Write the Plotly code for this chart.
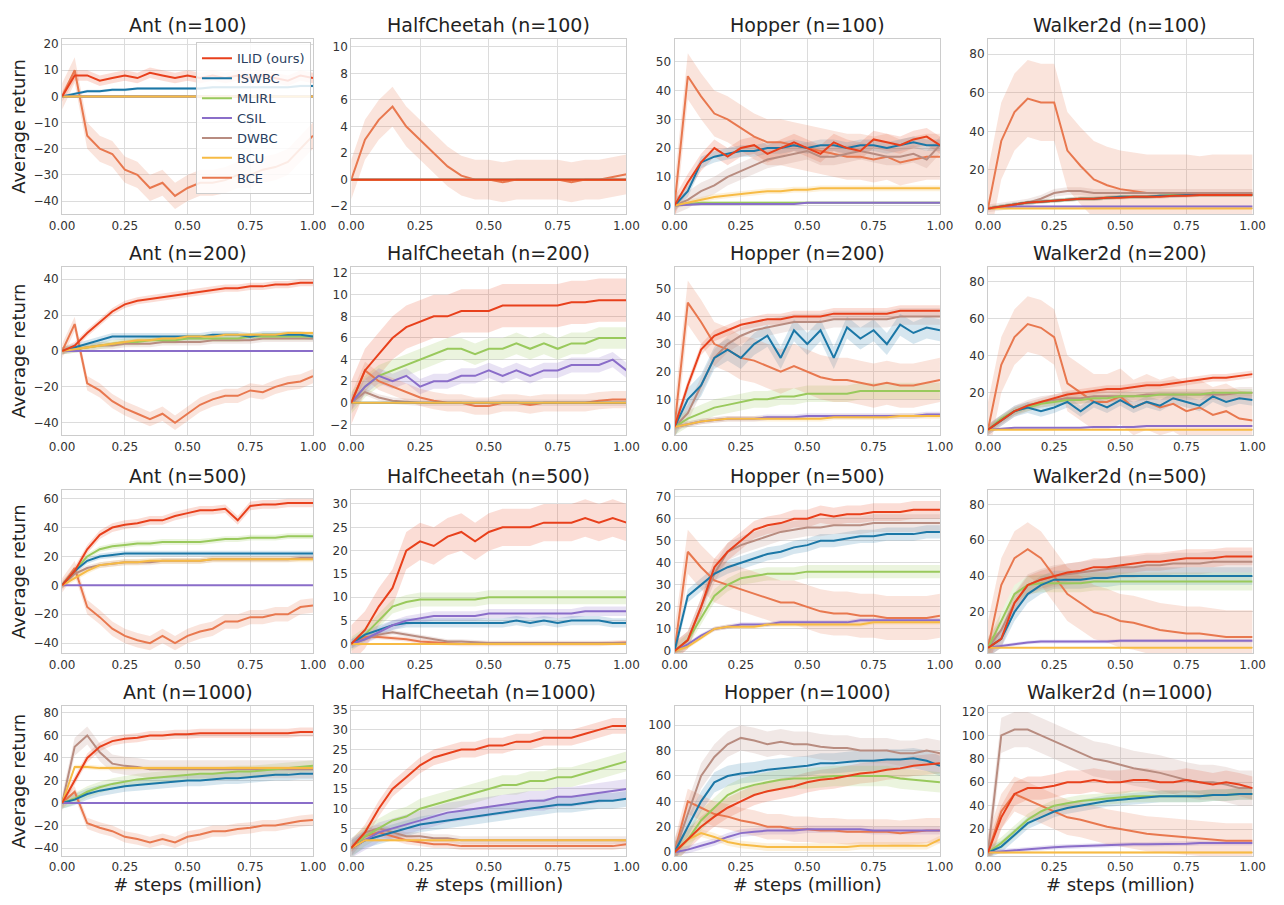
import plotly.graph_objects as go

steps = [i / 20 for i in range(21)]
methods = ["ILID (ours)", "ISWBC", "MLIRL", "CSIL", "DWBC", "BCU", "BCE"]
colors = ["#e8401c", "#1b77a6", "#99c95c", "#8a6dc9", "#b88c80", "#f7bb45", "#e8784f"]
fills = ["rgba(232,64,28,0.18)", "rgba(27,119,166,0.18)", "rgba(153,201,92,0.2)", "rgba(138,109,201,0.2)",
         "rgba(184,140,128,0.2)", "rgba(247,187,69,0.2)", "rgba(232,120,79,0.2)"]
Z = [0] * 21

titles = ["Ant (n=100)", "HalfCheetah (n=100)", "Hopper (n=100)", "Walker2d (n=100)",
          "Ant (n=200)", "HalfCheetah (n=200)", "Hopper (n=200)", "Walker2d (n=200)",
          "Ant (n=500)", "HalfCheetah (n=500)", "Hopper (n=500)", "Walker2d (n=500)",
          "Ant (n=1000)", "HalfCheetah (n=1000)", "Hopper (n=1000)", "Walker2d (n=1000)"]

ant100 = [[0,8,8,6,7,8,7,9,8,7,8,7,8,7,8,7,8,7,6,8,7],
          [0,1,2,2,2.5,2.5,3,3,3,3,3,3,3.5,3.5,3.5,3.5,3.5,3.5,3.5,4,4],
          Z, Z, Z, Z,
          [0,10,-15,-20,-22,-28,-30,-35,-33,-38,-35,-33,-33,-32,-30,-30,-28,-27,-25,-20,-15]]
hc100 = [Z, Z, Z, Z, Z, Z,
         [0,3,4.5,5.5,4,3,2,1,0.3,0,0,-0.2,0,0,0,0,-0.2,0,0,0.2,0.4]]
hop100 = [[0,8,15,20,17,20,21,18,20,22,20,18,22,20,19,23,22,21,23,24,21],
          [0,5,15,17,18,19,19,20,20,21,20,21,21,20,21,21,20,21,22,21,21],
          [0,0.5,1,1,1,1,1,1,1,1,1,1,1,1,1,1,1,1,1,1,1],
          [0,0.3,0.5,0.5,0.5,0.5,0.5,0.5,0.5,0.5,1,1,1,1,1,1,1,1,1,1,1],
          [0,2,5,7,10,12,14,16,17,18,19,17,17,18,19,18,17,17,18,16,21],
          [0,1,2,3,3.5,4,4.5,5,5,5.5,5.5,6,6,6,6,6,6,6,6,6,6],
          [0,45,38,32,30,27,24,22,22,21,20,19,18,17,17,16,17,15,16,17,17]]
wk100 = [[0,1,2,3,3.5,4,4.5,5,5,5.5,5.5,6,6,6,6.5,6.5,7,7,7,7,7],
         [0,1,2,3,3.5,4,4.5,5,5,5.5,6,6,6,6.5,6.5,7,7,7,7,7,7],
         [0,1,2,3,3.5,4,4.5,5,5,5.5,6,6,6,6.5,7,7,7,7,7,7,7],
         [0,0.5,1,1,1,1,1,1,1,1,1,1,1,1,1,1,1,1,1,1,1],
         [0,1,2,3,5,8,9,9,8,8,8,8,8,8,8,8,8,8,8,8,8],
         Z,
         [0,35,50,57,55,55,30,22,15,12,10,9,8,8,8,8,7,8,8,8,8]]
ant200 = [[0,3,10,16,22,26,28,29,30,31,32,33,34,35,35,36,36,37,37,38,38],
          [0,2,4,6,8,8,8,8,8,8,8,8,9,9,9,8,9,9,9,9,8],
          [0,1,2,3,4,5,5,6,6,6,7,7,7,7,7,8,8,8,8,8,8],
          Z,
          [0,1,2,3,3,4,4,4,5,5,5,5,6,6,6,6,7,7,7,7,7],
          [0,1,2,3,4,5,6,6,7,7,8,8,8,9,9,9,9,9,10,10,10],
          [0,15,-18,-22,-28,-32,-35,-38,-35,-40,-35,-30,-27,-25,-25,-22,-23,-20,-18,-17,-14]]
hc200 = [[0,3,4.5,6,7,7.5,8,8,8.5,8.5,8.5,9,9,9,9,9,9.3,9.3,9.5,9.5,9.5],
         Z,
         [0,1.5,2.5,3,3.5,4,4.5,5,5,4.5,5,5,5.5,5,5.5,5,5.5,5.5,6,6,6],
         [0,1.5,2.5,2,2.5,1.5,2,2,2.5,2.5,3,2.5,3,2.5,3,3,3.5,3.5,3.5,4,3],
         [0,1,0.5,0.2,0.1,0,0,0,0,0,0,0,0,0,0,0,0,0,0,0,0],
         Z,
         [0,3,2,1.5,1,0.5,0.2,0,0,-0.3,-0.3,0,0,-0.2,0,0,0,0,0.2,0.3,0.3]]
hop200 = [[0,15,28,33,35,37,38,39,39,40,40,40,41,41,41,41,41,42,42,42,42],
          [0,10,15,25,28,25,30,33,25,35,30,35,25,36,32,35,30,37,34,36,35],
          [0,3,5,7,8,9,10,10,11,11,12,12,12,12,13,13,13,13,13,13,13],
          [0,1,2,2.5,3,3,3,3.5,3.5,3.5,4,4,4,4,4,4,4,4,4,4.5,4.5],
          [0,5,15,25,30,33,35,36,37,38,38,38,39,39,39,39,39,40,40,40,40],
          [0,1,2,2.5,3,3,3,3,3,3,3,3,3.5,3.5,3.5,3.5,3.5,4,4,4,4],
          [0,45,38,30,28,25,24,22,20,22,20,18,17,17,16,15,16,15,15,16,17]]
wk200 = [[0,5,10,13,15,17,19,20,21,22,22,23,24,24,25,26,27,28,28,29,30],
         [0,5,10,12,10,12,15,10,15,12,16,12,15,13,17,15,13,18,15,17,16],
         [0,6,10,12,14,15,16,16,17,17,18,18,18,19,19,19,19,20,20,20,20],
         [0,0.5,1,1,1,1,1,1,1.5,1.5,1.5,1.5,2,2,2,2,2,2,2,2,2],
         [0,5,10,13,15,16,17,17,18,18,18,18,19,19,19,19,19,19,19,20,20],
         Z,
         [0,35,50,57,55,50,25,20,15,15,18,12,15,12,14,10,12,8,10,6,5]]
ant500 = [[0,10,25,35,40,42,43,45,45,48,50,52,52,53,45,55,56,56,57,57,57],
          [0,10,17,20,21,22,22,22,22,22,22,22,22,22,22,22,22,22,22,22,22],
          [0,10,20,25,27,28,29,29,30,30,30,30,31,32,32,33,33,33,34,34,34],
          Z,
          [0,8,12,14,15,16,16,16,17,17,17,17,18,18,18,18,18,18,18,19,19],
          [0,5,10,14,15,16,16,17,17,17,17,17,18,18,18,18,18,18,18,18,18],
          [0,12,-15,-22,-30,-35,-38,-40,-35,-40,-35,-32,-30,-25,-25,-22,-22,-20,-20,-15,-14]]
hc500 = [[0,3,8,12,20,22,21,23,24,22,24,25,25,25,26,26,26,27,26,27,26],
         [0,2,3,4,4.5,4.5,4.5,4.5,4.5,4.5,4.5,4.5,5,4.5,5,4.5,5,5,5,4.5,4.5],
         [0,2,5,8,9,9.5,9.5,9.5,9.5,9.5,10,10,10,10,10,10,10,10,10,10,10],
         [0,1,2.5,4,5,5.5,6,6,6,6,6.5,6.5,6.5,6.5,6.5,6.5,6.5,7,7,7,7],
         [0,1,2,2.5,2,1.5,1,0.5,0.5,0.3,0.2,0.2,0.2,0.2,0.2,0.2,0.2,0.2,0.2,0.2,0.2],
         Z,
         [0,1.5,1.5,1.2,1,0.5,0.3,0.2,0,0,0,0,0,0,0,0,0,0,0,0.2,0.3]]
hop500 = [[0,5,20,38,45,50,55,57,58,60,60,62,61,62,62,63,63,63,64,64,64],
          [0,25,30,35,38,40,42,44,45,47,48,50,50,51,52,52,53,53,53,54,54],
          [0,5,15,25,30,33,34,35,35,35,36,36,36,36,36,36,36,36,36,36,36],
          [0,3,7,10,11,12,12,12,13,13,13,13,13,13,14,14,14,14,14,14,14],
          [0,5,20,35,45,48,50,52,54,55,56,56,57,57,57,58,58,58,58,58,58],
          [0,2,6,10,11,11,11,12,12,12,12,12,12,12,12,13,13,13,13,13,13],
          [0,45,38,32,30,28,26,24,22,22,20,18,17,17,16,16,15,15,15,15,16]]
wk500 = [[0,5,25,35,38,40,42,43,45,45,46,47,48,48,49,50,50,50,51,51,51],
         [0,5,20,30,35,38,38,38,39,39,40,40,40,40,40,40,40,40,40,40,40],
         [0,15,30,35,36,36,36,36,37,37,37,37,37,37,37,37,37,37,37,37,37],
         [0,1,2,3,3.5,3.5,3.5,3.5,3.5,3.5,4,4,4,4,4,4,4,4,4,4,4],
         [0,10,25,35,38,40,41,42,43,44,45,45,46,46,47,47,47,48,48,48,48],
         Z,
         [0,35,50,55,50,40,30,25,20,18,15,14,12,10,9,8,8,7,6,6,6]]
ant1000 = [[0,20,40,50,55,57,58,60,60,61,61,62,62,62,62,62,62,62,62,63,63],
           [0,3,8,11,13,15,16,17,18,19,20,20,21,22,22,23,24,25,25,26,26],
           [0,4,10,14,17,19,21,22,23,24,25,26,26,27,28,28,29,30,31,32,33],
           Z,
           [0,50,60,45,35,33,32,30,30,30,30,30,30,30,30,30,30,30,30,30,30],
           [0,32,32,31,31,31,31,31,31,31,31,31,31,31,31,31,31,31,31,31,31],
           [0,10,-18,-22,-25,-30,-32,-35,-32,-35,-30,-28,-25,-25,-23,-22,-20,-20,-18,-16,-15]]
hc1000 = [[0,4,10,15,18,21,23,24,25,25,26,26,27,27,28,28,28,29,30,31,31],
          [0,2,3,4,5,6,6.5,7,7.5,8,8.5,9,9.5,10,10.5,11,11,11.5,12,12,12.5],
          [0,3,5,7,8,10,11,12,13,14,15,16,16,17,17,18,18,19,20,21,22],
          [0,2,4,5,6,7,8,9,9.5,10,10.5,11,11.5,12,12,13,13,13.5,14,14.5,15],
          [0,4,5,4,3,3,2.5,2.5,2,2,2,2,2,2,2,2,2,2,2,2,2],
          [0,2,2,2,2,2,2,2,2,2,2,2,2,2,2,2,2,2,2,2,2],
          [0,3,4,3,2,1.5,1,1,0.5,0.5,0.5,0.5,0.5,0.5,0.5,0.5,0.5,0.5,0.5,0.5,1]]
hop1000 = [[0,10,20,28,35,40,45,48,50,52,55,57,58,60,62,63,65,66,68,69,70],
           [0,20,40,55,60,62,63,65,66,67,68,70,70,71,72,72,73,73,74,72,68],
           [0,10,25,35,45,50,53,55,57,58,58,59,60,60,60,60,60,58,57,56,55],
           [0,2,5,8,12,15,16,17,17,17,18,18,18,18,18,17,17,17,17,17,17],
           [0,30,60,75,85,90,88,85,87,85,85,83,82,82,80,80,80,78,78,80,78],
           [0,10,15,12,8,6,5,4,4,4,4,4,4,4,5,5,5,5,5,5,10],
           [0,40,35,30,28,25,23,20,20,18,18,17,17,16,16,16,16,15,16,17,17]]
wk1000 = [[0,30,50,55,55,57,60,60,62,60,60,62,62,60,60,62,60,58,60,58,55],
          [0,5,15,25,30,35,38,40,42,44,45,46,47,48,48,48,48,49,49,50,50],
          [0,8,18,28,35,40,42,44,45,46,47,48,48,48,48,48,48,49,49,50,50],
          [0,1,2,3,4,4.5,5,5.5,6,6,6.5,7,7,7,7.5,7.5,8,8,8,8,8],
          [0,100,105,105,100,95,90,85,80,78,75,72,70,68,65,62,60,60,58,55,55],
          Z,
          [0,35,50,45,40,35,30,28,25,22,20,18,16,15,14,13,12,11,10,10,10]]

panels = [ant100, hc100, hop100, wk100, ant200, hc200, hop200, wk200,
          ant500, hc500, hop500, wk500, ant1000, hc1000, hop1000, wk1000]

# band half-widths per method, per panel
spreads = [[2,0.5,0,0,0,0,5], [0,0,0,0,0,0,1.5], [3,2,0.5,0.3,3,1,8], [1,1,1,0.5,2,0,20],
           [2,2,2,0,2,1,4], [2,0,1,0.7,0.3,0,0.8], [2,4,3,1,3,1,8], [2,3,2,0.5,3,0,15],
           [3,2,2,0,2,2,5], [4,1,1.5,1,0.5,0,0.5], [4,3,3,1,4,1,10], [5,5,5,1,6,0,15],
           [4,5,5,0,8,2,5], [2,2,2.5,2.5,1,0.3,1], [8,8,8,3,10,3,10], [10,5,5,2,15,1,15]]

yranges = [[-45,22],[-2.6,10.6],[-3,58],[-3,88],
           [-47,47],[-3,12.6],[-3,58],[-3,88],
           [-47,66],[-2,33],[-1,73],[-3,88],
           [-47,86],[-2,36],[-3,115],[-3,125]]
ydtick = [10,2,10,20, 20,2,10,20, 20,5,10,20, 20,5,20,20]

xdom = [[0.0327,0.2321],[0.2625,0.4813],[0.5195,0.7305],[0.7687,0.979]]
ydom = [[0.7735,0.969],[0.527,0.715],[0.284,0.466],[0.058,0.225]]

draw_order = [6, 4, 2, 1, 3, 5, 0]  # BCE bottom ... ILID top

fig = go.Figure()
layout = {}
annotations = []
for p in range(16):
    r, c = divmod(p, 4)
    ax = "" if p == 0 else str(p + 1)
    xa, ya = "x" + ax, "y" + ax
    data = panels[p]
    for m in range(7):
        s = spreads[p][m]
        if s > 0:
            up = [v + s for v in data[m]]
            lo = [v - s for v in data[m]]
            fig.add_trace(go.Scatter(x=steps, y=up, xaxis=xa, yaxis=ya, mode="lines",
                                     line=dict(width=0), showlegend=False, hoverinfo="skip"))
            fig.add_trace(go.Scatter(x=steps, y=lo, xaxis=xa, yaxis=ya, mode="lines",
                                     line=dict(width=0), fill="tonexty", fillcolor=fills[m],
                                     showlegend=False, hoverinfo="skip"))
    for m in draw_order:
        fig.add_trace(go.Scatter(x=steps, y=data[m], xaxis=xa, yaxis=ya, mode="lines",
                                 name=methods[m], legendrank=m + 1,
                                 line=dict(color=colors[m], width=2),
                                 showlegend=(p == 0)))
    layout["xaxis" + ax] = dict(domain=xdom[c], anchor=ya, range=[0, 1], tickvals=[0,0.25,0.5,0.75,1],
                                ticktext=["0.00","0.25","0.50","0.75","1.00"],
                                showgrid=True, gridcolor="#dcdcdc", zeroline=False,
                                showline=True, linecolor="#cccccc", mirror=True,
                                tickfont=dict(size=12, color="#333"),
                                title=dict(text="# steps (million)" if r == 3 else "", font=dict(size=18, color="#222"), standoff=2))
    layout["yaxis" + ax] = dict(domain=ydom[r], anchor=xa, range=yranges[p], dtick=ydtick[p],
                                showgrid=True, gridcolor="#dcdcdc", zeroline=False,
                                showline=True, linecolor="#cccccc", mirror=True,
                                tickfont=dict(size=12, color="#333"),
                                title=dict(text="Average return" if c == 0 else "", font=dict(size=18, color="#222"), standoff=4))
    annotations.append(dict(text=titles[p], x=(xdom[c][0] + xdom[c][1]) / 2, y=ydom[r][1],
                            xref="paper", yref="paper", xanchor="center", yanchor="bottom",
                            yshift=1, showarrow=False, font=dict(size=19, color="#222")))

fig.update_layout(**layout, annotations=annotations, width=1284, height=905,
                  margin=dict(l=0, r=0, t=0, b=0), plot_bgcolor="white", paper_bgcolor="white",
                  font=dict(family="DejaVu Sans"),
                  legend=dict(x=0.2305, y=0.965, xanchor="right", yanchor="top", traceorder="normal",
                              bgcolor="rgba(255,255,255,0.85)", bordercolor="#cccccc", borderwidth=1,
                              font=dict(size=13), tracegroupgap=0, itemwidth=30))
fig.write_html("out.html")
